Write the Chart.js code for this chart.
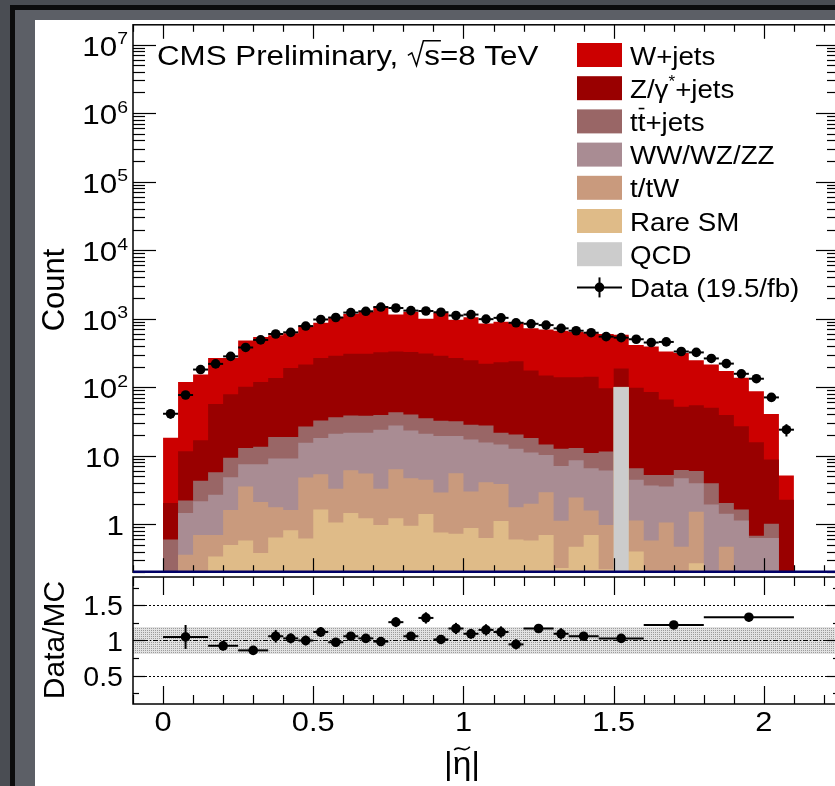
<!DOCTYPE html>
<html>
<head>
<meta charset="utf-8">
<title>CMS |eta| distribution</title>
<script src="https://cdn.jsdelivr.net/npm/chart.js@4.4.1/dist/chart.umd.min.js"></script>
<style>
  html, body { margin: 0; padding: 0; width: 835px; height: 786px; overflow: hidden; }
  body { background: #4a4d53; }
  #frame { position: absolute; left: 10px; top: 5px; right: -20px; bottom: -20px; background: #0c0c0d; }
  #mat { position: absolute; left: 15px; top: 10px; right: -20px; bottom: -20px; background: #5c5f66; }
  #panel { position: absolute; left: 35px; top: 20px; width: 800px; height: 766px; background: #fff; overflow: hidden; }
  #upper { position: absolute; left: 0; top: 0; }
  #lower { position: absolute; left: 0; top: 550px; }
</style>
</head>
<body>
<div id="frame"></div>
<div id="mat"></div>
<div id="panel">
  <canvas id="upper" width="810" height="557"></canvas>
  <canvas id="lower" width="810" height="216"></canvas>
</div>
<script>
const FONT = '"Liberation Sans", Arial, Helvetica, sans-serif';

// bins of |eta~| (width 0.05) and stacked MC contents per process
const binEdges = [0, 0.05, 0.1, 0.15, 0.2, 0.25, 0.3, 0.35, 0.4, 0.45, 0.5, 0.55, 0.6, 0.65, 0.7, 0.75,
  0.8, 0.85, 0.9, 0.95, 1, 1.05, 1.1, 1.15, 1.2, 1.25, 1.3, 1.35, 1.4, 1.45, 1.5, 1.55, 1.6, 1.65,
  1.7, 1.75, 1.8, 1.85, 1.9, 1.95, 2, 2.05, 2.1];

const qcd = [0, 0, 0, 0, 0, 0, 0, 0, 0, 0, 0, 0, 0, 0, 0, 0, 0, 0, 0, 0,
  0, 0, 0, 0, 0, 0, 0, 0, 0, 0, 100, 0, 0, 0, 0, 0, 0, 0, 0, 0, 0, 0];
const rareSM = [0, 0, 0, 0.34, 0.5, 0.58, 0.38, 0.64, 0.82, 0.62, 1.65, 1.06, 1.46, 1.22, 0.98, 1.22, 0.95, 1.41, 0.76, 0.73,
  0.88, 0.63, 1.12, 0.6, 0.58, 0.7, 0.23, 0.47, 0.7, 0.22, 0.5, 0.4, 0, 0, 0, 0.27, 0, 0, 0, 0, 0, 0];
const singleTop = [0, 0.36, 0.7, 0.36, 1.11, 2.99, 1.74, 1.14, 0.79, 4.2, 3.73, 2.24, 4.68, 4.28, 2.32, 5.13, 3.76, 3.05, 2.14, 4.83,
  2.13, 3.49, 2.74, 1.18, 1.42, 2.23, 0.9, 2.0, 0.89, 0.76, 0.3, 0.74, 0.58, 1.06, 0.47, 1.25, 0, 0.47, 0, 0, 0, 0];
const diboson = [0, 1.1, 1.47, 2.0, 3.26, 3.93, 5.38, 7.37, 7.54, 10.6, 12.8, 17.6, 15.6, 16.2, 20.6, 21.2, 18.7, 16.5, 16.6, 13.9,
  14.3, 11.5, 10.7, 10.9, 9.2, 7.3, 5.96, 6.16, 4.97, 5.1, 0.2, 3.31, 3.1, 2.51, 4.24, 2.46, 1.94, 0.96, 1.14, 0.63, 0.63, 0];
const ttbar = [0.6, 0.76, 2.14, 3.04, 4.48, 5.5, 6.0, 9.65, 9.65, 11.3, 14.4, 15.6, 16.8, 16.8, 15.5, 15.4, 16.6, 14.3, 13.0, 12.5,
  11.1, 12.1, 7.1, 7.8, 7.0, 4.4, 5.6, 4.36, 4.44, 5.5, 0.2, 2.11, 1.56, 1.68, 1.49, 2.02, 2.04, 0.62, 0.51, 0.05, 0.39, 0];
const zjets = [1.45, 9.4, 12.5, 51, 69.6, 89, 105.5, 118, 172, 187, 234, 251, 270, 270, 283, 289, 287, 275, 255.5, 235,
  219.6, 193, 209, 218.5, 157, 133, 127, 127, 131, 84.8, 86, 92, 80, 60.8, 45.8, 48.7, 46, 37.4, 25.4, 15, 7.8, 2.29];
const wjets = [16.2, 108, 136, 210, 188, 377, 421, 438, 420, 556, 603, 772, 862, 942, 1168, 818, 933, 690, 922, 698,
  802, 630, 674, 641, 547, 550, 527, 499, 469, 502, 398, 316, 308, 266, 263, 192, 164, 133, 110, 72, 31.9, 2.86];
const dataCounts = [41, 77, 181, 219, 282, 380, 490, 598, 632, 780, 973, 1040, 1228, 1282, 1479, 1431, 1312, 1295, 1241, 1112,
  1148, 984, 1028, 871, 842, 806, 722, 667, 624, 547, 529, 501, 449, 458, 332, 322, 263, 221, 157, 133, 71, 24];

const processNames = ['W+jets', 'Z/γ^{*}+jets', 't#bar{t}+jets', 'WW/WZ/ZZ', 't/tW', 'Rare SM', 'QCD'];
const processColors = ['#cc0000', '#990000', '#996666', '#a98c93', '#c99a7d', '#dfbb88', '#cccccc'];
const dataName = 'Data (19.5/fb)';
const plotTitle = 'CMS Preliminary, #sqrt{s}=8 TeV';

// ratio panel, variable bins
const ratioLo = [0, 0.15, 0.25, 0.35, 0.4, 0.45, 0.5, 0.55, 0.6, 0.65, 0.7, 0.75, 0.8, 0.85, 0.9, 0.95, 1.0, 1.05, 1.1, 1.15,
  1.2, 1.3, 1.35, 1.45, 1.6, 1.8];
const ratioHi = [0.15, 0.25, 0.35, 0.4, 0.45, 0.5, 0.55, 0.6, 0.65, 0.7, 0.75, 0.8, 0.85, 0.9, 0.95, 1.0, 1.05, 1.1, 1.15, 1.2,
  1.3, 1.35, 1.45, 1.6, 1.8, 2.1];
const ratioVal = [1.05, 0.925, 0.86, 1.06, 1.03, 1.0, 1.12, 0.975, 1.06, 1.03, 0.985, 1.26, 1.06, 1.32, 1.015, 1.17, 1.095, 1.15, 1.12, 0.945,
  1.17, 1.095, 1.06, 1.03, 1.22, 1.33];
const ratioErr = [0.17, 0.07, 0.05, 0.09, 0.07, 0.07, 0.07, 0.06, 0.06, 0.06, 0.06, 0.07, 0.06, 0.08, 0.06, 0.08, 0.07, 0.08, 0.08, 0.07,
  0.05, 0.08, 0.05, 0.05, 0.05, 0.06];
const mcBand = [0.81, 1.19];

// axes
const etaRange = [-0.1, 2.25];
const countRange = [0.2, 1.94e7];
const ratioRange = [0.1, 1.9];
const etaTicks = [0, 0.5, 1, 1.5, 2];
const etaTickLabels = ['0', '0.5', '1', '1.5', '2'];
const countTicks = [1, 10, 100, 1e3, 1e4, 1e5, 1e6, 1e7];
const countTickLabels = ['1', '10', '10^{2}', '10^{3}', '10^{4}', '10^{5}', '10^{6}', '10^{7}'];
const ratioTicks = [0.5, 1, 1.5];
const ratioTickLabels = ['0.5', '1', '1.5'];

// ---- small text helper for ROOT-like markup (^{}, #bar{}, #sqrt{}, #tilde{})
function parseRich(str) {
  const parts = [];
  const re = /\^\{([^}]*)\}|#bar\{([^}]*)\}|#sqrt\{([^}]*)\}|#tilde\{([^}]*)\}|([^^#]+)/g;
  let m;
  while ((m = re.exec(str))) {
    if (m[1] !== undefined) parts.push({ t: m[1], sup: true });
    else if (m[2] !== undefined) parts.push({ t: m[2], bar: true });
    else if (m[3] !== undefined) parts.push({ t: m[3], sqrt: true });
    else if (m[4] !== undefined) parts.push({ t: m[4], tilde: true });
    else parts.push({ t: m[5] });
  }
  return parts;
}

// the source figure is a little wider than tall, so text gets a horizontal stretch sx
function richText(ctx, str, x, y, size, align, sx) {
  sx = sx || 1;
  const parts = parseRich(str);
  const fontFor = p => (p.sup ? size * 0.62 : size) + 'px ' + FONT;
  const rad = size * 0.55 * sx;
  let total = 0;
  parts.forEach(p => {
    ctx.font = fontFor(p);
    p.w = ctx.measureText(p.t).width * sx;
    total += p.w + (p.sqrt ? rad : 0);
  });
  let cx = align === 'right' ? x - total : align === 'center' ? x - total / 2 : x;
  ctx.textAlign = 'left';
  ctx.textBaseline = 'alphabetic';
  ctx.strokeStyle = '#000';
  parts.forEach(p => {
    ctx.font = fontFor(p);
    if (p.sqrt) {
      const top = y - size * 0.9;
      ctx.beginPath();
      ctx.lineWidth = size * 0.055;
      ctx.moveTo(cx + rad * 0.05, y - size * 0.36);
      ctx.lineTo(cx + rad * 0.28, y - size * 0.45);
      ctx.lineTo(cx + rad * 0.55, y + size * 0.02);
      ctx.lineTo(cx + rad * 0.95, top);
      ctx.lineTo(cx + rad + p.w + 1, top);
      ctx.stroke();
      cx += rad;
    }
    ctx.save();
    ctx.translate(cx, y + (p.sup ? -size * 0.4 : 0));
    ctx.scale(sx, 1);
    ctx.fillText(p.t, 0, 0);
    ctx.restore();
    if (p.bar) {
      ctx.beginPath();
      ctx.lineWidth = size * 0.06;
      ctx.moveTo(cx + 1, y - size * 0.86);
      ctx.lineTo(cx + p.w - 1, y - size * 0.86);
      ctx.stroke();
    }
    if (p.tilde) {
      const ty = y - size * 0.8;
      ctx.beginPath();
      ctx.lineWidth = size * 0.05;
      ctx.moveTo(cx + p.w * 0.08, ty + size * 0.05);
      ctx.bezierCurveTo(cx + p.w * 0.35, ty - size * 0.14, cx + p.w * 0.6, ty + size * 0.18, cx + p.w * 0.92, ty - size * 0.05);
      ctx.stroke();
    }
    cx += p.w;
  });
  return total;
}

function seg(ctx, x1, y1, x2, y2) {
  ctx.beginPath();
  ctx.moveTo(x1, y1);
  ctx.lineTo(x2, y2);
  ctx.stroke();
}

function rotatedTitle(ctx, text, cx, cy, size) {
  ctx.save();
  ctx.translate(cx, cy);
  ctx.rotate(-Math.PI / 2);
  ctx.font = size + 'px ' + FONT;
  ctx.textAlign = 'center';
  ctx.textBaseline = 'alphabetic';
  ctx.fillStyle = '#000';
  ctx.fillText(text, 0, size * 0.36);
  ctx.restore();
}

// ---- stacked histogram (bottom of stack first)
const stackBottomUp = [qcd, rareSM, singleTop, diboson, ttbar, zjets, wjets];
const cumulative = [];
let running = dataCounts.map(() => 0);
stackBottomUp.forEach(arr => {
  running = running.map((r, i) => r + arr[i]);
  cumulative.push(running);
});

// a log axis drops zeros, so empty levels sit just under the visible range instead
const LOG_FLOOR = 1e-3;
const stepPts = vals => vals.map((v, i) => ({ x: binEdges[i], y: Math.max(v, LOG_FLOOR) }))
  .concat([{ x: binEdges[vals.length], y: Math.max(vals[vals.length - 1], LOG_FLOOR) }]);
const binCenters = dataCounts.map((_, i) => (binEdges[i] + binEdges[i + 1]) / 2);

const stackSets = processNames.map((name, k) => ({
  label: name,
  data: stepPts(cumulative[6 - k]),
  stepped: 'before',
  fill: 'start',
  backgroundColor: processColors[k],
  borderColor: 'rgba(0,0,0,0)',
  borderWidth: 0,
  pointRadius: 0,
  order: 7 - k
}));

const dataSet = {
  label: dataName,
  data: dataCounts.map((n, i) => ({ x: binCenters[i], y: n })),
  showLine: false,
  pointRadius: 4.8,
  pointBackgroundColor: '#000',
  pointBorderWidth: 0,
  order: 0
};

const upperDecor = {
  id: 'upperDecor',
  afterDatasetsDraw(chart) {
    const { ctx, chartArea: a } = chart;
    const x = chart.scales.x, y = chart.scales.y;
    ctx.save();
    ctx.strokeStyle = '#000';
    ctx.fillStyle = '#000';

    // data error bars
    ctx.lineWidth = 2;
    dataCounts.forEach((n, i) => {
      const py = y.getPixelForValue(n);
      const px = x.getPixelForValue(binCenters[i]);
      seg(ctx, x.getPixelForValue(binEdges[i]), py, x.getPixelForValue(binEdges[i + 1]), py);
      const e = Math.sqrt(n);
      seg(ctx, px, y.getPixelForValue(n - e), px, y.getPixelForValue(n + e));
    });

    // frame
    ctx.lineWidth = 1.5;
    ctx.strokeRect(a.left, a.top, a.right - a.left, a.bottom - a.top);

    // eta ticks (top and bottom)
    ctx.lineWidth = 1.2;
    for (let i = -1; i <= 22; i++) {
      const px = Math.round(x.getPixelForValue(i / 10)) + 0.5;
      const len = i % 5 === 0 ? 14 : 7;
      seg(ctx, px, a.top, px, a.top + len);
      seg(ctx, px, a.bottom, px, a.bottom - len);
    }
    // log ticks (left and right)
    for (let e = -1; e <= 7; e++) {
      for (let m = 1; m <= 9; m++) {
        const v = m * Math.pow(10, e);
        if (v < y.min || v > y.max) continue;
        const py = Math.round(y.getPixelForValue(v)) + 0.5;
        const len = m === 1 ? 23 : 12;
        seg(ctx, a.left, py, a.left + len, py);
        seg(ctx, a.right, py, a.right - len, py);
      }
    }
    // bottom line of the pad
    ctx.strokeStyle = '#000066';
    ctx.lineWidth = 2.5;
    seg(ctx, a.left, a.bottom - 0.5, a.right, a.bottom - 0.5);

    // tick labels
    ctx.fillStyle = '#000';
    countTicks.forEach((v, i) => {
      const lab = countTickLabels[i];
      const py = y.getPixelForValue(v);
      const right = lab.indexOf('^') >= 0 ? 93 : (lab === '1' ? 89 : 85);
      richText(ctx, lab, right, py + 11, 28, 'right', 1.12);
    });
    rotatedTitle(ctx, 'Count', 18, 270, 31);

    // title
    richText(ctx, plotTitle, 122, 45, 27, 'left', 1.16);

    // legend
    const lx = 542, lw = 45, lh = 24, top0 = 23, step = 33.2;
    processNames.forEach((name, k) => {
      const t = top0 + k * step;
      ctx.fillStyle = processColors[k];
      ctx.fillRect(lx, t, lw, lh);
      ctx.fillStyle = '#000';
      richText(ctx, name, lx + 53, t + lh / 2 + 9.5, 26, 'left', 1.065);
    });
    const dy = top0 + 7 * step + lh / 2;
    ctx.strokeStyle = '#000';
    ctx.lineWidth = 2;
    seg(ctx, lx, dy, lx + lw, dy);
    seg(ctx, lx + lw / 2, dy - 10, lx + lw / 2, dy + 10);
    ctx.beginPath();
    ctx.arc(lx + lw / 2, dy, 4.8, 0, 2 * Math.PI);
    ctx.fill();
    richText(ctx, dataName, lx + 53, dy + 9.5, 26, 'left', 1.065);
    ctx.restore();
  }
};

new Chart(document.getElementById('upper').getContext('2d'), {
  type: 'line',
  data: { datasets: stackSets.concat([dataSet]) },
  options: {
    responsive: false,
    animation: false,
    events: [],
    layout: { padding: { left: 98, top: 1, right: 6, bottom: 2 } },
    plugins: { legend: { display: false }, tooltip: { enabled: false } },
    scales: {
      x: { type: 'linear', min: etaRange[0], max: etaRange[1], display: false },
      y: { type: 'logarithmic', min: countRange[0], max: countRange[1], display: false }
    }
  },
  plugins: [upperDecor]
});

// ---- ratio panel
const dots = document.createElement('canvas');
dots.width = 2; dots.height = 2;
const dctx = dots.getContext('2d');
dctx.fillStyle = '#e2e2e2'; dctx.fillRect(0, 0, 2, 2);
dctx.fillStyle = '#9a9a9a'; dctx.fillRect(0, 0, 1, 1);
const bandPattern = dctx.createPattern(dots, 'repeat');

const ratioCenters = ratioVal.map((_, i) => (ratioLo[i] + ratioHi[i]) / 2);

const lowerDecor = {
  id: 'lowerDecor',
  beforeDatasetDraw(chart, args) {
    if (args.index !== 2) return;
    const { ctx, chartArea: a } = chart;
    const y = chart.scales.y;
    ctx.save();
    ctx.strokeStyle = '#000';
    ctx.lineWidth = 1;
    ratioTicks.forEach(v => {
      const py = Math.round(y.getPixelForValue(v)) + 0.5;
      ctx.setLineDash(v === 1 ? [5, 2, 1, 2] : [2, 2]);
      seg(ctx, a.left, py, a.right, py);
    });
    ctx.restore();
  },
  afterDatasetsDraw(chart) {
    const { ctx, chartArea: a } = chart;
    const x = chart.scales.x, y = chart.scales.y;
    ctx.save();
    ctx.strokeStyle = '#000';
    ctx.fillStyle = '#000';
    ctx.lineWidth = 2;
    ratioVal.forEach((v, i) => {
      const py = y.getPixelForValue(v);
      const px = x.getPixelForValue(ratioCenters[i]);
      seg(ctx, x.getPixelForValue(ratioLo[i]), py, x.getPixelForValue(ratioHi[i]), py);
      seg(ctx, px, y.getPixelForValue(v - ratioErr[i]), px, y.getPixelForValue(v + ratioErr[i]));
    });

    ctx.lineWidth = 1.5;
    ctx.strokeRect(a.left, a.top, a.right - a.left, a.bottom - a.top);
    ctx.lineWidth = 1.2;
    for (let i = -1; i <= 22; i++) {
      const px = Math.round(x.getPixelForValue(i / 10)) + 0.5;
      const len = i % 5 === 0 ? 18 : 9;
      seg(ctx, px, a.top, px, a.top + len);
      seg(ctx, px, a.bottom, px, a.bottom - len);
    }
    for (let i = 1; i <= 7; i++) {
      const py = Math.round(y.getPixelForValue(i / 4)) + 0.5;
      const len = i % 2 === 0 ? 12 : 6;
      seg(ctx, a.left, py, a.left + len, py);
      seg(ctx, a.right, py, a.right - len, py);
    }

    ratioTicks.forEach((v, i) => {
      richText(ctx, ratioTickLabels[i], 88, y.getPixelForValue(v) + 10, 28, 'right', 1.02);
    });
    etaTicks.forEach((v, i) => {
      richText(ctx, etaTickLabels[i], x.getPixelForValue(v), 161, 28, 'center', 1.1);
    });
    richText(ctx, '|#tilde{η}|', 427, 204, 32, 'center', 1.05);
    rotatedTitle(ctx, 'Data/MC', 18, 70, 30);
    ctx.restore();
  }
};

new Chart(document.getElementById('lower').getContext('2d'), {
  type: 'line',
  data: {
    datasets: [
      { label: 'MC unc. low', data: etaRange.map(e => ({ x: e, y: mcBand[0] })), pointRadius: 0, borderWidth: 0,
        borderColor: 'rgba(0,0,0,0)', fill: false, order: 3 },
      { label: 'MC unc. high', data: etaRange.map(e => ({ x: e, y: mcBand[1] })), pointRadius: 0, borderWidth: 0,
        borderColor: 'rgba(0,0,0,0)', fill: '-1', backgroundColor: bandPattern, order: 2 },
      { label: 'Data/MC', data: ratioVal.map((v, i) => ({ x: ratioCenters[i], y: v })), showLine: false,
        pointRadius: 4.8, pointBackgroundColor: '#000', pointBorderWidth: 0, order: 1 }
    ]
  },
  options: {
    responsive: false,
    animation: false,
    events: [],
    layout: { padding: { left: 98, top: 7, right: 6, bottom: 82 } },
    plugins: { legend: { display: false }, tooltip: { enabled: false } },
    scales: {
      x: { type: 'linear', min: etaRange[0], max: etaRange[1], display: false },
      y: { type: 'linear', min: ratioRange[0], max: ratioRange[1], display: false }
    }
  },
  plugins: [lowerDecor]
});
</script>
</body>
</html>
